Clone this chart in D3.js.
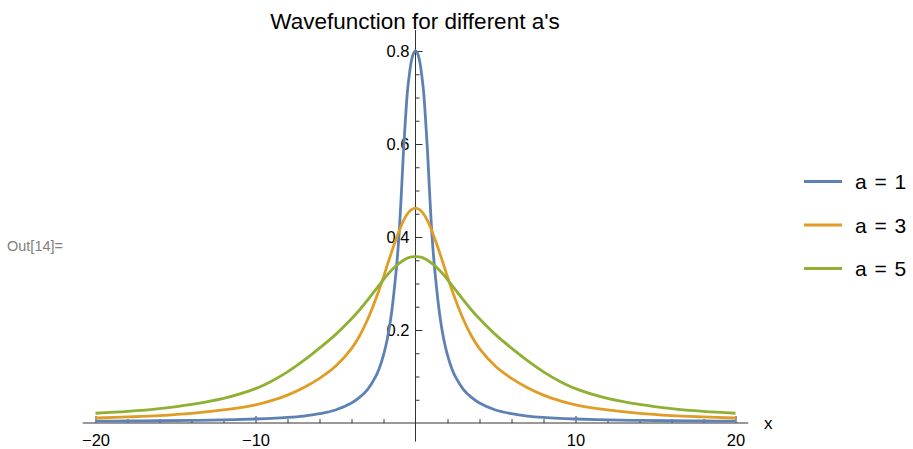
<!DOCTYPE html>
<html>
<head>
<meta charset="utf-8">
<script src="https://cdn.jsdelivr.net/npm/d3@7"></script>
<style>
  body { margin: 0; background: #fff; }
  svg { display: block; font-family: "Liberation Sans", Arial, sans-serif; }
  .axis path.domain { display: none; }
  .axis line { stroke: #333; stroke-width: 1; }
  .axis text { fill: #000; }
</style>
</head>
<body>
<svg id="chart" width="913" height="449"></svg>
<script>

// x positions for a = 1 (finer near the peak)
var xsA1 = [-20, -18, -16, -14, -12, -10, -9, -8, -7, -6, -5, -4, -3.5, -3, -2.5, -2.25, -2, -1.75, -1.5, -1.25, -1.125, -1, -0.875, -0.75, -0.625, -0.5, -0.375, -0.25, -0.125, 0,
            0.125, 0.25, 0.375, 0.5, 0.625, 0.75, 0.875, 1, 1.125, 1.25, 1.5, 1.75, 2, 2.25, 2.5, 3, 3.5, 4, 5, 6, 7, 8, 9, 10, 12, 14, 16, 18, 20];
var waveA1 = [0.004, 0.0043, 0.0048, 0.0055, 0.0066, 0.0086, 0.010, 0.012, 0.015, 0.020, 0.028, 0.043, 0.055, 0.072, 0.099, 0.119, 0.146, 0.183, 0.236, 0.313, 0.360, 0.420, 0.500, 0.585, 0.655, 0.715, 0.752, 0.780, 0.795, 0.800,
              0.795, 0.780, 0.752, 0.715, 0.655, 0.585, 0.500, 0.420, 0.360, 0.313, 0.236, 0.183, 0.146, 0.119, 0.099, 0.072, 0.055, 0.043, 0.028, 0.020, 0.015, 0.012, 0.010, 0.0086, 0.0066, 0.0055, 0.0048, 0.0043, 0.004];

// x positions for a = 3 and a = 5
var xs = [-20, -18, -16, -14, -12, -10, -9, -8, -7, -6, -5, -4, -3.5, -3, -2.5, -2, -1.75, -1.5, -1.25, -1, -0.75, -0.5, -0.25, 0,
          0.25, 0.5, 0.75, 1, 1.25, 1.5, 1.75, 2, 2.5, 3, 3.5, 4, 5, 6, 7, 8, 9, 10, 12, 14, 16, 18, 20];

var waveA3 = [0.0108, 0.013, 0.0158, 0.0205, 0.028, 0.039, 0.048, 0.060, 0.076, 0.096, 0.122, 0.160, 0.187, 0.222, 0.265, 0.314, 0.341, 0.367, 0.392, 0.415, 0.435, 0.450, 0.459, 0.462,
              0.459, 0.450, 0.435, 0.415, 0.392, 0.367, 0.341, 0.314, 0.265, 0.222, 0.187, 0.160, 0.122, 0.096, 0.076, 0.060, 0.048, 0.039, 0.028, 0.0205, 0.0158, 0.013, 0.0108];

var waveA5 = [0.021, 0.025, 0.031, 0.040, 0.053, 0.074, 0.090, 0.110, 0.134, 0.161, 0.190, 0.224, 0.243, 0.264, 0.2865, 0.3085, 0.319, 0.3285, 0.337, 0.344, 0.350, 0.3545, 0.357, 0.358,
              0.357, 0.3545, 0.350, 0.344, 0.337, 0.3285, 0.319, 0.3085, 0.2865, 0.264, 0.243, 0.224, 0.190, 0.161, 0.134, 0.110, 0.090, 0.074, 0.053, 0.040, 0.031, 0.025, 0.021];

var seriesNames = ["a = 1", "a = 3", "a = 5"];
var seriesColors = ["#5E81B5", "#E09C24", "#8FB032"];

var xMajor = [-20, -10, 10, 20];
var xMinor = [-18, -16, -14, -12, -8, -6, -4, -2, 2, 4, 6, 8, 12, 14, 16, 18];
var yMajor = [0.2, 0.4, 0.6, 0.8];
var yMinor = [0.05, 0.1, 0.15, 0.25, 0.3, 0.35, 0.45, 0.5, 0.55, 0.65, 0.7, 0.75];

var svg = d3.select("#chart");

var x = d3.scaleLinear().domain([-20, 20]).range([95.5, 735.5]);
var y = d3.scaleLinear().domain([0, 0.8]).range([423, 51]);

// axis lines
svg.append("line")
    .attr("x1", x(-20.8)).attr("x2", x(20.8))
    .attr("y1", y(0)).attr("y2", y(0))
    .attr("stroke", "#333").attr("stroke-width", 1);
svg.append("line")
    .attr("x1", x(0)).attr("x2", x(0))
    .attr("y1", y(-0.04)).attr("y2", y(0.845))
    .attr("stroke", "#333").attr("stroke-width", 1);

// x ticks
svg.append("g").attr("class", "axis")
    .attr("transform", "translate(0," + y(0) + ")")
    .call(d3.axisBottom(x).tickValues(xMinor).tickSize(-4).tickFormat(""));
var xAxis = svg.append("g").attr("class", "axis")
    .attr("transform", "translate(0," + y(0) + ")")
    .call(d3.axisBottom(x).tickValues(xMajor).tickSize(-7).tickPadding(11));
xAxis.selectAll("text").style("font-size", "16.5px");

// y ticks
svg.append("g").attr("class", "axis")
    .attr("transform", "translate(" + x(0) + ",0)")
    .call(d3.axisLeft(y).tickValues(yMinor).tickSize(-4).tickFormat(""));
var yAxis = svg.append("g").attr("class", "axis")
    .attr("transform", "translate(" + x(0) + ",0)")
    .call(d3.axisLeft(y).tickValues(yMajor).tickSize(-7).tickPadding(6).tickFormat(d3.format(".1f")));
yAxis.selectAll("text").style("font-size", "16.5px");

svg.append("text")
    .attr("x", 764).attr("y", 429)
    .style("font-size", "17px")
    .text("x");

// curves
var line = d3.line()
    .x(function(d) { return x(d[0]); })
    .y(function(d) { return y(d[1]); })
    .curve(d3.curveCatmullRom.alpha(0.5));

var curves = [[xsA1, waveA1], [xs, waveA3], [xs, waveA5]];
curves.forEach(function(c, i) {
    svg.append("path")
        .datum(c[0].map(function(v, j) { return [v, c[1][j]]; }))
        .attr("d", line)
        .attr("fill", "none")
        .attr("stroke", seriesColors[i])
        .attr("stroke-width", 2.8)
        .attr("stroke-linejoin", "round");
});

// title
svg.append("text")
    .attr("x", 415).attr("y", 29)
    .attr("text-anchor", "middle")
    .style("font-size", "22.5px")
    .text("Wavefunction for different a's");

// out label
svg.append("text")
    .attr("x", 7).attr("y", 251)
    .attr("fill", "#808080")
    .style("font-size", "14.5px")
    .text("Out[14]=");

// legend
var legend = svg.append("g").attr("transform", "translate(804,0)");
seriesNames.forEach(function(name, i) {
    var ly = 181.5 + i * 43.5;
    legend.append("line")
        .attr("x1", 0).attr("x2", 38)
        .attr("y1", ly).attr("y2", ly)
        .attr("stroke", seriesColors[i]).attr("stroke-width", 3);
    legend.append("text")
        .attr("x", 51).attr("y", ly + 7.5)
        .style("font-size", "21px")
        .style("word-spacing", "2px")
        .text(name);
});

</script>
</body>
</html>
